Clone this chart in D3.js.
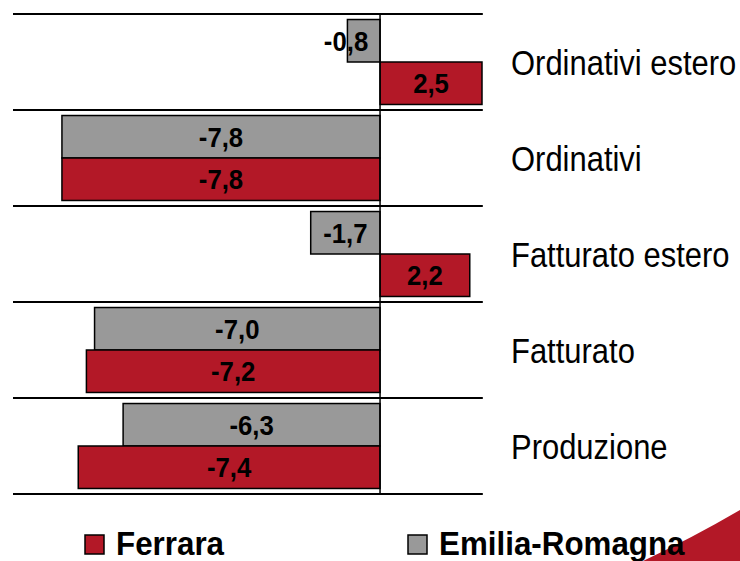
<!DOCTYPE html>
<html>
<head>
<meta charset="utf-8">
<script src="https://cdn.jsdelivr.net/npm/d3@7"></script>
<style>
  html, body { margin: 0; padding: 0; background: #fff; }
  svg { display: block; }
</style>
</head>
<body>
<svg id="chart" width="740" height="561"></svg>
<script>
// Indicators, top to bottom
const categories = ["Ordinativi estero", "Ordinativi", "Fatturato estero", "Fatturato", "Produzione"];
// Series drawn inside each band (upper bar first)
const seriesNames = ["Emilia-Romagna", "Ferrara"];
const emiliaRomagna = [-0.8, -7.8, -1.7, -7.0, -6.3];
const ferrara = [2.5, -7.8, 2.2, -7.2, -7.4];
const legendItems = ["Ferrara", "Emilia-Romagna"];

const colors = { "Ferrara": "#b31827", "Emilia-Romagna": "#999999" };
const values = { "Ferrara": ferrara, "Emilia-Romagna": emiliaRomagna };

const svg = d3.select("#chart");
const fmt = d3.formatLocale({ decimal: ",", thousands: ".", grouping: [3], currency: ["€", ""], minus: "-" }).format(".1f");

// decorative corner shape
svg.append("path")
  .attr("d", "M643,561 Q692,538 740,510 L740,561 Z")
  .attr("fill", "#b31827");

const x = d3.scaleLinear().domain([-9, 2.5]).range([13, 482]);
const y = d3.scaleBand().domain(categories).range([14, 494]).padding(0);
const ySub = d3.scaleBand().domain(seriesNames).range([0, y.bandwidth()]).paddingInner(0).paddingOuter(0.13);

const rows = [];
categories.forEach((c, i) => {
  seriesNames.forEach(s => rows.push({ cat: c, series: s, value: values[s][i] }));
});

// band separators
const edges = categories.map(c => y(c)).concat([y(categories[categories.length - 1]) + y.bandwidth()]);
svg.append("g").selectAll("line").data(edges).join("line")
  .attr("x1", x(-9)).attr("x2", x(2.52))
  .attr("y1", d => d).attr("y2", d => d)
  .attr("stroke", "#000").attr("stroke-width", 2);

// bars
svg.append("g").selectAll("rect").data(rows).join("rect")
  .attr("x", d => x(Math.min(0, d.value)))
  .attr("width", d => Math.abs(x(d.value) - x(0)))
  .attr("y", d => y(d.cat) + ySub(d.series))
  .attr("height", ySub.bandwidth())
  .attr("fill", d => colors[d.series])
  .attr("stroke", "#000").attr("stroke-width", 1.5);

// zero axis
svg.append("line")
  .attr("x1", x(0)).attr("x2", x(0))
  .attr("y1", edges[0]).attr("y2", edges[edges.length - 1])
  .attr("stroke", "#000").attr("stroke-width", 1.5);

// value labels
svg.append("g").selectAll("text").data(rows).join("text")
  .attr("transform", d => {
    const c = (x(d.value) + x(0)) / 2;
    const cx = d.value < 0 ? Math.min(c, x(0) - 34) : c;
    const cy = y(d.cat) + ySub(d.series) + ySub.bandwidth() / 2;
    return `translate(${cx},${cy}) scale(0.92,1)`;
  })
  .attr("dy", "0.36em")
  .attr("text-anchor", "middle")
  .attr("font-family", "'Liberation Sans', Arial, sans-serif")
  .attr("font-weight", "bold")
  .attr("font-size", 28)
  .attr("fill", "#000")
  .text(d => fmt(d.value));

// category labels (narrowed sans)
svg.append("g").selectAll("text").data(categories).join("text")
  .attr("transform", c => `translate(511,${y(c) + y.bandwidth() / 2}) scale(0.86,1)`)
  .attr("dy", "0.36em")
  .attr("font-family", "'Liberation Sans', Arial, sans-serif")
  .attr("font-size", 36)
  .attr("fill", "#000")
  .text(c => c);

// legend
const legendX = [85, 408];
const lg = svg.append("g").selectAll("g").data(legendItems).join("g")
  .attr("transform", (d, i) => `translate(${legendX[i]},535)`);
lg.append("rect").attr("width", 19).attr("height", 19)
  .attr("fill", d => colors[d]).attr("stroke", "#000").attr("stroke-width", 1.5);
lg.append("text")
  .attr("transform", "translate(31,20) scale(0.95,1)")
  .attr("font-family", "'Liberation Sans', Arial, sans-serif")
  .attr("font-weight", "bold").attr("font-size", 33)
  .attr("fill", "#000")
  .text(d => d);
</script>
</body>
</html>
